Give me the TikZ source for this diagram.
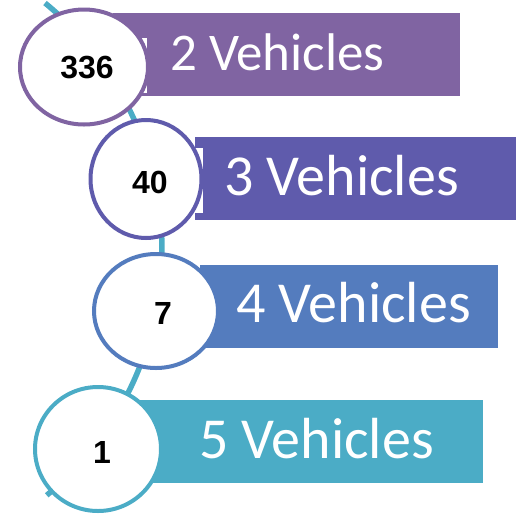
\documentclass[tikz,border=0pt]{standalone}
\usepackage{fontspec}
\usetikzlibrary{shapes.geometric}
\newfontfamily\lblfont{Carlito}
\newfontfamily\numfont{Liberation Sans}
\definecolor{cA}{RGB}{128,100,162}
\definecolor{cB}{RGB}{95,91,172}
\definecolor{cC}{RGB}{84,124,190}
\definecolor{cD}{RGB}{75,172,198}

\begin{document}
\begin{tikzpicture}[x=1pt,y=-1pt,
    bar/.style={rectangle, fill=#1, inner sep=0pt, anchor=north west, minimum height=83pt},
    disc/.style={ellipse, draw=#1, line width=4pt, fill=white, inner sep=0pt},
    num/.style n args={3}{label={[font=\numfont\bfseries\fontsize{32}{32}\selectfont,
                          inner sep=0pt, xshift=#1, yshift=#2]center:#3}},
    lbl/.style={anchor=base west, inner sep=0pt, text=white,
                font=\lblfont\fontsize{58}{58}\selectfont},
    spine/.style={draw=cD, line width=5.5pt}]
  \useasboundingbox (0,0) rectangle (517,515);

  \coordinate (top) at (45,3);
  \draw[spine] (top) arc[start angle=50.7, end angle=-50.3, radius=319pt];

  \node[bar=cA, minimum width=347pt] (b1) at (113,13) {};
  \node[bar=cB, minimum width=321pt] (b2) at (195,137) {};
  \node[bar=cC, minimum width=298pt] (b3) at (200,265) {};
  \node[bar=cD, minimum width=343pt] (b4) at (140,400) {};
  \fill[white] (100,38) rectangle (147,93);
  \fill[white] (160,148) rectangle (203,213);

  \node[lbl, font=\lblfont\fontsize{53}{53}\selectfont] (t1) at (170,70) {2 Vehicles};
  \node[lbl] (t2) at (224,195) {3 Vehicles};
  \node[lbl] (t3) at (236,322) {4 Vehicles};
  \node[lbl] (t4) at (199,458) {5 Vehicles};

  \node[disc=cA, minimum width=128pt, minimum height=115pt,
        num={3pt}{-1pt}{336}] (e1) at (84,67) {};
  \node[disc=cB, minimum width=111pt, minimum height=118pt,
        num={4pt}{-3pt}{40}] (e2) at (146,179) {};
  \node[disc=cC, minimum width=124pt, minimum height=114pt,
        num={7pt}{-2pt}{7}] (e3) at (156,311) {};
  \node[disc=cD, minimum width=126pt, minimum height=124pt,
        num={4pt}{-3pt}{1}] (e4) at (98,449) {};
\end{tikzpicture}
\end{document}
